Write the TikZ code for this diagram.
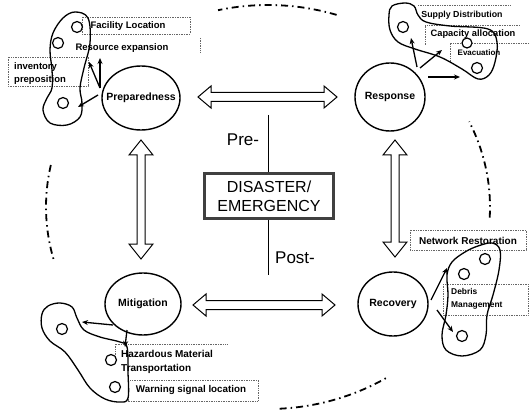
\documentclass[tikz,border=0pt]{standalone}
\usepackage{fontspec}
\setmainfont{Liberation Sans}
\usetikzlibrary{shapes.geometric,arrows.meta,calc}
\newcommand\dblh[2]{%
  \draw[dbl] (#1) -- ++(13,-11) -- ++(0,6.5) -- ($(#2)+(-13,-4.5)$) -- ++(0,-6.5) -- (#2) -- ++(-13,11) -- ++(0,-6.5) -- ($(#1)+(13,4.5)$) -- ++(0,6.5) -- cycle;}
\newcommand\dblv[2]{%
  \draw[dbl] (#1) -- ++(-12,15) -- ++(8,0) -- ($(#2)+(-4,-15)$) -- ++(-8,0) -- (#2) -- ++(12,-15) -- ++(-8,0) -- ($(#1)+(4,15)$) -- ++(8,0) -- cycle;}
\begin{document}
\begin{tikzpicture}[x=1pt,y=-1pt,
  phase/.style={ellipse, draw, line width=1.4pt, inner sep=0pt, font=\bfseries\fontsize{10.5}{12}\selectfont},
  dbl/.style={draw, line width=1pt, fill=white, line join=miter},
  blob/.style={draw, line width=1.3pt},
  spot/.style={circle, draw, fill=white, line width=1.2pt, inner sep=0pt, minimum size=11},
  lbl/.style={font=\bfseries\fontsize{9.5}{13}\selectfont, inner sep=0pt},
  dbox/.style={draw=black!60, densely dotted, line width=0.7pt},
  arr/.style={-{Stealth[length=6pt,width=5pt]}, line width=1.3pt},
  dashdot/.style={line width=1.8pt, dash pattern=on 7pt off 4pt on 1.5pt off 4pt}
]
\useasboundingbox (0,0) rectangle (530,414);
% outer dash-dot cycle
\draw[dashdot] plot[domain=72:103, samples=30] ({268+222*cos(\x)},{207-202*sin(\x)});
\draw[dashdot] plot[domain=-3:25, samples=30] ({268+222*cos(\x)},{207-202*sin(\x)});
\draw[dashdot] plot[domain=-87:-57, samples=30] ({268+222*cos(\x)},{207-202*sin(\x)});
\draw[dashdot] plot[domain=168:195, samples=30] ({268+222*cos(\x)},{207-202*sin(\x)});

% phases
\node[phase, minimum width=78, minimum height=64] (prep) at (141,98) {\makebox[0pt]{Preparedness}};
\node[phase, minimum width=70, minimum height=68] (resp) at (390,97) {\makebox[0pt]{Response}};
\node[phase, minimum width=76, minimum height=62] (miti) at (143,304) {\makebox[0pt]{Mitigation}};
\node[phase, minimum width=70, minimum height=64] (reco) at (393,304) {\makebox[0pt]{Recovery}};

% center
\node[draw=black!75, line width=2.6pt, minimum width=129, minimum height=45, inner sep=0pt, align=center, font=\fontsize{16}{19}\selectfont] (dis) at (269,196) {DISASTER/\\EMERGENCY};
\coordinate (ltop) at (268,115);
\coordinate (lbot) at (268,275);
\draw[line width=0.8pt] (ltop) -- (ltop |- dis.north);
\draw[line width=0.8pt] (lbot |- dis.south) -- (lbot);
\node[font=\fontsize{17}{20}\selectfont, inner sep=0pt] (pre) at (243,140) {Pre-};
\node[font=\fontsize{17}{20}\selectfont, inner sep=0pt] (post) at (295,258) {Post-};

% double arrows
\coordinate (h1a) at (198,97);  \coordinate (h1b) at (337,97);
\coordinate (h2a) at (193,305); \coordinate (h2b) at (335,305);
\coordinate (v1a) at (141,140); \coordinate (v1b) at (141,259);
\coordinate (v2a) at (395,140); \coordinate (v2b) at (395,257);
\dblh{h1a}{h1b}
\dblh{h2a}{h2b}
\dblv{v1a}{v1b}
\dblv{v2a}{v2b}

% ---- top-left cluster (Preparedness)
\draw[dbox] (82,17) rectangle (190,34);
\draw[dbox] (200,38) -- (200,53);
\draw[dbox] (8,57) rectangle (88,86);
\draw[blob] plot[smooth cycle, tension=0.6] coordinates {(63,18) (75,12) (88,18) (90,43) (84,68) (80,88) (82,103) (80,117) (67,125) (50,123) (43,110) (47,98) (52,88) (52,70) (50,50) (53,33)};
\node[spot] (p1) at (77,27) {};
\node[spot] (p2) at (58,43) {};
\node[spot] (p3) at (63,103) {};
\node[lbl] (fac) at (128,26) {Facility Location};
\node[lbl] (res) at (122,48) {Resource expansion};
\node[lbl, align=left, anchor=west] (inv) at (14,73.5) {inventory\\preposition};
\coordinate (pa1) at (100,88); \coordinate (pb1) at (89,62);
\coordinate (pa2) at (100,88); \coordinate (pb2) at (100,58);
\coordinate (pa3) at (98,95);  \coordinate (pb3) at (78,107);
\draw[arr] (pa1) -- (pb1);
\draw[arr] (pa2) -- (pb2);
\draw[arr] (pa3) -- (pb3);

% ---- top-right cluster (Response)
\draw[dbox] (418,5) -- (510,5);
\draw[dbox] (425,45) -- (425,25) -- (520,25);
\draw[dbox] (450,62) -- (450,43) -- (530,43);
\draw[blob] plot[smooth cycle, tension=0.6] coordinates {(392,6) (405,3) (414,6) (418,15) (426,22) (450,26) (488,29) (497,42) (495,62) (489,75) (478,79) (462,69) (440,57) (415,49) (398,42) (390,30) (389,15)};
\node[spot] (r1) at (403,27) {};
\node[spot, minimum size=10] (r2) at (467,43) {};
\node[spot] (r3) at (477,68) {};
\node[lbl, font=\bfseries\fontsize{8.8}{10}\selectfont] (sup) at (462,15) {Supply Distribution};
\node[lbl, font=\bfseries\fontsize{9.3}{10}\selectfont] (cap) at (473,34) {Capacity allocation};
\node[lbl, font=\bfseries\fontsize{8}{10}\selectfont] (eva) at (479,53) {Evacuation};
\coordinate (ra1) at (417,67); \coordinate (rb1) at (411,38);
\coordinate (ra2) at (420,68); \coordinate (rb2) at (442,50);
\coordinate (ra3) at (428,77); \coordinate (rb3) at (460,77);
\draw[arr] (ra1) -- (rb1);
\draw[arr] (ra2) -- (rb2);
\draw[arr] (ra3) -- (rb3);

% ---- bottom-left cluster (Mitigation)
\draw[dbox] (115,360) -- (115,344) -- (227,344);
\draw[dbox] (128,380) rectangle (258,401);
\draw[blob] plot[smooth cycle, tension=0.6] coordinates {(48,306) (60,303) (72,307) (77,318) (84,330) (100,337) (120,342) (127,347) (128,372) (128,398) (120,402) (105,399) (90,388) (78,370) (65,352) (50,341) (42,328) (42,314)};
\node[spot] (m1) at (62,329) {};
\node[spot] (m2) at (111,360) {};
\node[spot] (m3) at (115,387) {};
\node[lbl, font=\bfseries\fontsize{10}{14}\selectfont, align=left, anchor=west] (haz) at (121,362) {Hazardous Material\\Transportation};
\node[lbl, font=\bfseries\fontsize{9.8}{12}\selectfont] (warn) at (191,390) {Warning signal location};
\coordinate (ma1) at (113,325); \coordinate (mb1) at (82,322);
\coordinate (ma2) at (127,330); \coordinate (mb2) at (125,347);
\draw[arr] (ma1) -- (mb1);
\draw[arr] (ma2) -- (mb2);

% ---- bottom-right cluster (Recovery)
\draw[dbox] (410,230) rectangle (526,250);
\draw[dbox] (443,284) rectangle (528,315);
\draw[blob] plot[smooth cycle, tension=0.6] coordinates {(478,246) (492,243) (500,250) (499,270) (493,295) (487,315) (486,335) (480,350) (462,356) (446,350) (442,335) (446,315) (448,295) (447,275) (452,262) (465,252)};
\node[spot] (c1) at (485,259) {};
\node[spot] (c2) at (464,274) {};
\node[spot] (c3) at (462,336) {};
\node[lbl, font=\bfseries\fontsize{10}{12}\selectfont] (net) at (468,241) {Network Restoration};
\node[lbl, font=\bfseries\fontsize{8.4}{13}\selectfont, align=left, anchor=west] (deb) at (451,298.5) {Debris\\Management};
\coordinate (ca1) at (431,300); \coordinate (cb1) at (447,268);
\coordinate (ca2) at (437,310); \coordinate (cb2) at (453,332);
\draw[arr] (ca1) -- (cb1);
\draw[arr] (ca2) -- (cb2);
\end{tikzpicture}
\end{document}
